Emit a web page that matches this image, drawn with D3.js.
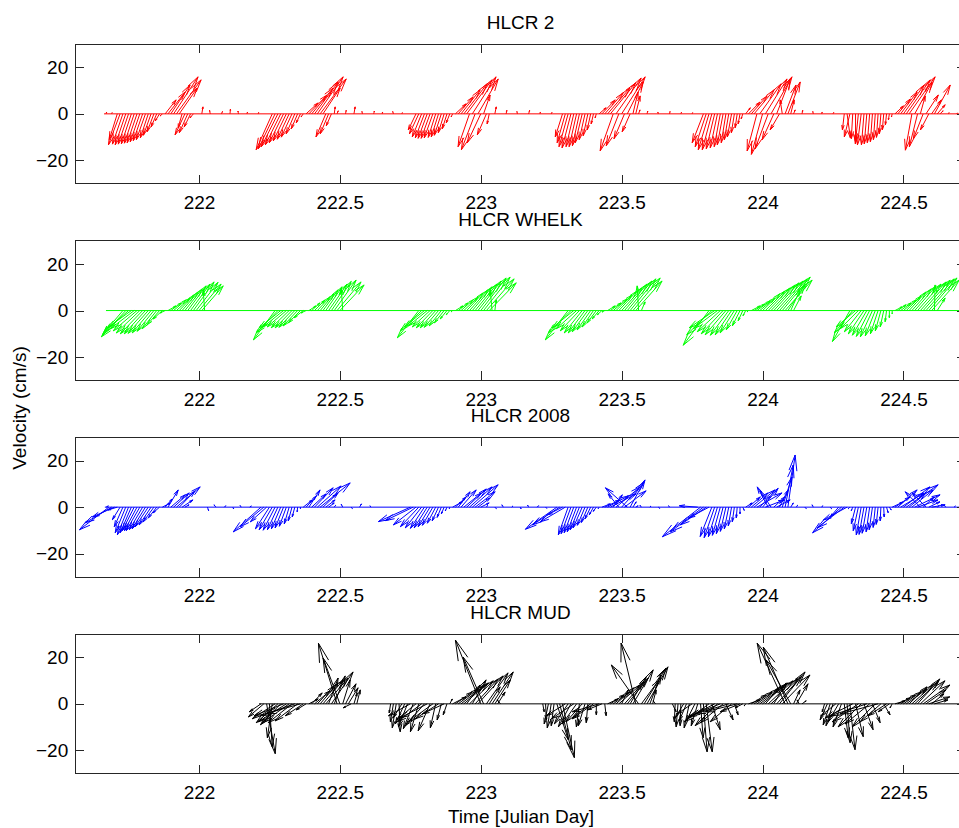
<!DOCTYPE html>
<html>
<head>
<meta charset="utf-8">
<script src="https://cdn.jsdelivr.net/npm/d3@7"></script>
<style>
  body { margin: 0; background: #fff; }
</style>
</head>
<body>
<div id="chart"></div>
<script>
// ---- data -------------------------------------------------------------
// current vectors, 0.01 day sampling; u = east, v = north (cm/s)
var dt = 0.01;
var uScale = 0.00826;   // days of time axis per cm/s of u (feather scaling)

var titles = ["HLCR 2", "HLCR WHELK", "HLCR 2008", "HLCR MUD"];
var colors = ["#ff0000", "#00ff00", "#0000ff", "#000000"];
var xTicks = [222, 222.5, 223, 223.5, 224, 224.5];
var yTicks = [-20, 0, 20];

// HLCR 2
var hlcr2Span = [221.663, 224.722];
var hlcr2Start = [221.71, 222.26, 222.77, 223.29, 223.79, 224.29];
var hlcr2U = [
  [-3.4,-5,-4.5,-4.5,-4.4,-4.3,-4.2,-4.2,-4.1,-4,-3.9,-3.4,-3.3,-2.9,-2.4,-1.8,-0.9,4.7,7.4,8.3,10.5,10.6,7.7,-1.7,-4.2,-3.6,-2.7,-1.4],
  [-6.9,-7.2,-7.1,-6.6,-6.1,-5.6,-5.1,-4.6,-3.7,-2.7,-1.8,-0.9,5.2,7.8,9.2,10.2,11.1,11.2,7.4,-4.2,-3.6,-2.2,0.4,0.5],
  [-3.3,-4,-4,-3.9,-3.9,-3.8,-3.7,-3.2,-3.1,-3,-2.5,-2,-1.5,-0.6,4.6,6.4,8.2,10,10.9,-4.9,10.2,-5.9,8.7,-5.8,2.8,-3.9,-0.9],
  [-3.1,-3.5,-3.9,-3.8,-3.3,-3.2,-3,-3,-2.5,-2,-1.5,-1,-0.5,3,5.7,7.9,9.6,10.9,-5.6,10.8,-5.4,10.1,-4.5,6.8,-3.4,2.2,1.9,0.6],
  [-4.8,-4.7,-4.6,-4.1,-3.6,-3.1,-2.6,-2.5,-2,-1.9,-1.8,-1.3,-0.9,-0.8,-0.7,2,5,6.8,8.6,-4.2,9.2,-4.8,9.3,-5.6,9,-5,5.8,-4,-0.9,4.7,5.3,1.5,0.7],
  [-0.8,1.4,-2.4,-0.6,0,-1.3,-1.6,-1.1,-1.1,-1,-0.9,-0.8,-0.7,-0.7,-0.6,-0.5,-0.4,-0.3,3.6,5.4,7.1,8.9,10.3,11.2,-2.8,7.5,-3.5,2.1,-4.2,5.3,-3.6,4.2,6.8,3.4,1.3]
];
var hlcr2V = [
  [-11,-13.3,-13,-13.3,-13,-12.9,-12.6,-12.4,-12,-11.5,-11.1,-10.3,-9.2,-7.7,-5.6,-3,-0.9,6,9.4,12.4,15.9,14.6,11.1,-6,-9,-8.1,-5.6,-1.7],
  [-15.4,-15,-14.1,-13.3,-12.4,-11.6,-10.9,-10,-8.6,-6.4,-3.9,-1.3,4.7,8.1,11.1,13.7,15.9,15,11.1,-9.9,-8.6,-5.1,3,1.3],
  [-6.9,-8.6,-9.9,-10.3,-10.5,-10.5,-10.3,-10.1,-9.9,-9.2,-8.1,-6.4,-3.9,-1.3,4.3,7.3,10.3,12.9,14.6,-14.1,15.9,-15.4,15,-12.4,8.1,-9,-4.3],
  [-9.9,-12.4,-14.1,-14.6,-14.1,-14.1,-13.7,-12.4,-11.1,-9.4,-6.9,-4.3,-1.7,2.6,6,9,11.1,13.3,-15.9,15.4,-13.7,15.9,-10.7,13.7,-7.7,9.4,7.7,1.7],
  [-12.4,-14.1,-15.4,-15.4,-15,-14.6,-14.1,-13.3,-12.4,-11.1,-9.9,-8.1,-6,-4.3,-2.1,2.6,5.1,7.7,10.3,-15.9,12.9,-17.4,15,-15,15.9,-11.1,15,-6.9,6,12.4,13.7,6,1.7],
  [-6.9,-10.3,-9.9,-10.7,-12,-12.9,-13.3,-13.3,-12.9,-12.4,-12,-11.1,-10.1,-8.6,-6.9,-4.7,-2.6,-1.3,3.4,6.4,9.4,12.4,14.6,15.9,-15.6,13.7,-14.1,7.7,-10.7,8.1,-6.9,6,12.4,3.9,1.3]
];
var hlcr2SlackT = [221.67,221.69,222.01,222.04,222.08,222.11,222.14,222.17,222.21,222.52,222.55,222.58,222.62,222.65,222.69,222.72,223.05,223.09,223.13,223.17,223.21,223.25,223.59,223.63,223.67,223.71,223.75,224.14,224.18,224.21,224.25,224.66,224.69];
var hlcr2SlackU = [0.3,0.2,0.5,-0.3,0.4,0.2,-0.2,0.3,0.2,0.3,0.5,-0.2,0.3,0.2,-0.3,0.2,0.6,0.3,-0.2,0.4,0.2,0.3,0.3,-0.2,0.2,0.3,0.2,0.3,-0.2,0.2,0.3,0.2,0.2];
var hlcr2SlackV = [0.8,0.5,3,1.5,1,2,1.2,0.8,0.6,1.5,3,1,1.2,0.8,1,0.5,3,1.5,1,1.5,0.8,0.6,1.2,0.8,1,0.7,0.5,1.5,1,0.8,0.6,0.5,0.4];

// HLCR WHELK
var whelkSpan = [221.67, 224.722];
var whelkStart = [221.73, 222.27, 222.78, 223.31, 223.81, 224.31];
var whelkU = [
  [-8.8,-10.5,-10.4,-10.3,-10.2,-10.2,-10.1,-9.6,-9.1,-8.6,-8.1,-7.2,-6.2,-5.3,-3.9,-2.1,3.5,4.5,5.4,5.9,6.4,6.9,7.4,7.9,8.4,8.9,9.4,9.5,9.2,-0.6],
  [-9.3,-9.3,-9.2,-8.7,-8.2,-7.7,-7.2,-6.8,-6.2,-5.2,-3.9,-2.1,3.1,3.6,4.6,5.5,6,6.5,7,8,8.5,9.4,10.3,10.4,-0.6],
  [-9.2,-9.1,-8.6,-8.1,-7.6,-7.1,-6.6,-6.1,-5.2,-4.2,-2.9,-1.5,-0.6,3.3,4.3,5.2,6.2,7.1,8,8.5,9.4,10,10.9,11.4,11.9,11.6,-0.8,0.6],
  [-9.8,-9.7,-9.3,-8.7,-8.2,-7.7,-7.2,-6.7,-5.8,-4.8,-3.9,-3,-2,-1.1,3.3,4.6,6,6.9,7.8,8.8,9.7,10.6,11.1,11.7,11.3,-0.6,1.6],
  [-11.1,-10.8,-10.9,-10.4,-9.9,-9.4,-8.9,-7.9,-7,-6.1,-4.7,-3.3,-2,-1.1,-0.6,3.9,4.8,5.7,6.6,7.5,8.5,9.4,10.4,10.8,11.4,11.9,12,11.6,7.4,4,3.3],
  [-7.5,-7.9,-8.3,-7.8,-7.2,-6.7,-6.2,-5.7,-5.2,-4.3,-3.3,-2.4,-1.5,-0.6,0,0,3.1,3.6,4.5,5.5,6.4,7.3,8.3,9.2,10.1,11.1,11.6,12.1,12.1,11.8,0.3,3.4]
];
var whelkV = [
  [-10.4,-11.3,-9.1,-7.4,-7.8,-8.7,-9.6,-10,-10,-9.8,-9.6,-8.9,-7.8,-6.1,-3.6,-1,2,3.3,4.6,5.4,6.7,8,9.3,10.6,11.4,12.3,12.1,11.4,10.6,8.9],
  [-12.6,-9.6,-7.4,-7,-7,-7.4,-7.4,-7.2,-6.6,-5.3,-3.1,-1,2,3.3,4.6,5.9,7.2,8.9,10.2,11.4,12.5,13.1,12.3,11,9.7],
  [-11.7,-8.7,-7,-6.6,-7,-7.4,-7.4,-7.2,-6.6,-5.3,-3.6,-1.8,-0.6,2,3.3,4.6,5.9,7.6,8.9,10.2,11.4,12.7,14,14.4,13.6,11.9,8.9,4.6],
  [-12.6,-9.6,-7.4,-7.8,-8.7,-9.6,-9.6,-9.1,-8.3,-7,-5.3,-3.6,-1.8,-0.6,2,3.3,5,6.7,8.4,9.7,11.4,12.7,13.6,14,12.7,10.6,3.7],
  [-14.9,-10.4,-7.4,-7.8,-9.1,-10,-10.4,-10.6,-10.4,-9.6,-8.3,-6.6,-4.4,-2.2,-0.6,2,2.9,4.2,5.4,7.2,8.4,9.7,11,11.9,12.7,13.6,14.4,13.1,11,8.9,6.3],
  [-13.3,-9.6,-7,-7.8,-9.1,-10,-10.6,-11.1,-11.3,-10.9,-10,-8.7,-7,-4.8,-3.1,-1.4,1.6,2.5,3.3,4.6,6.3,8,9.3,10.6,11.4,12.3,13.1,13.6,14,13.1,11,5.4]
];
var whelkSlackT = [];
var whelkSlackU = [];
var whelkSlackV = [];

// HLCR 2008
var h2008Span = [221.666, 224.722];
var h2008Start = [221.68, 222.22, 222.75, 223.27, 223.77, 224.27];
var h2008U = [
  [-12.6,-11.3,-9.5,-3.9,-3.3,-3.7,-4.5,-4.8,-4.8,-5.1,-5.4,-5.8,-5.7,-5.7,-5.6,-5.1,-4.6,-3.6,-2.7,3.4,3,4.4,6.2,6.7,10.2,6.8,4.7,1.8],
  [-11.9,-10.1,-7,-6,-5.6,-5.1,-4.5,-4,-3.6,-3,-2.1,-1.6,-1.1,-0.2,0,3.9,4.4,4.8,6.2,8,10.2,12.9,6.5,4,2.4],
  [-13.7,-12,-9.7,-7.9,-7,-6,-5.6,-5.1,-4.5,-3.6,-2.7,-1.8,-1.2,-0.7,-0.2,4.2,4.6,5.1,6.5,7.5,8.4,9.7,11.1,8.6,5.3,3.6],
  [-13.5,-11.7,-6.5,-10.8,-4.2,-4.2,-4.1,-4,-3.9,-3.9,-3.3,-2.8,-2.4,-1.8,-1.3,-0.4,3.6,6.6,8.8,11.1,3.9,10.4,-4.6,9.6,9.3,-9.4,6.4,1.4,1],
  [-7.9,-16.4,-14.2,-11.1,-8.9,-5,-4.5,-3.9,-3.4,-2.9,-2.4,-1.9,-1.4,-0.9,-0.4,0,0.6,2.8,5.1,7.2,9,10.8,4.5,6.7,8.1,-4.7,-4.6,4.8,5.8,3.7,4.2,3.5,3.1,1.1],
  [-3.6,-12.4,-11.6,-10.2,-0.7,-0.6,-1.8,-2.2,-2.1,-2.1,-2,-1.5,-1.4,-0.9,-0.8,-0.3,0.2,0.7,0.8,4.7,6.5,8.3,10.1,11.4,13.7,6.9,9.1,10.9,8.8,-6.5,4.7,-5.9,4.8,5.8]
];
var h2008V = [
  [-9.7,-6.7,-4.2,-1.2,-5.4,-8.4,-11,-11.9,-11,-10.1,-10.1,-10.1,-9.7,-9.3,-8.4,-7.6,-6.3,-4.6,-2.4,1.8,3.5,7.4,5.3,6.1,8.7,7,3.1,1],
  [-10.6,-8.4,-6.3,-9.3,-9.7,-9.9,-9.7,-9.3,-8.9,-8.2,-7.2,-5.9,-4.2,-2,-0.7,3.1,4.8,7.4,5.7,8.3,9.1,10.4,6.1,3.1,1.8],
  [-6.2,-5.8,-7.6,-8.4,-8.9,-9.1,-8.9,-8.4,-7.8,-6.9,-5.9,-4.4,-2.9,-1.6,-0.7,2.3,4.4,6.6,7.4,6.1,7.8,8.7,9.6,6.6,4,1.8],
  [-9.5,-7.6,-3.3,-6.3,-11.9,-11.4,-11,-10.6,-9.7,-8.9,-7.8,-6.6,-5,-3.3,-1.8,-0.7,1.4,3.1,4.8,5.7,5.3,8.7,5.7,10.6,7,8.3,11.7,2.3,0.6],
  [0.6,-12.7,-10.6,-7.6,-4.7,-12.6,-13.1,-12.7,-12.1,-11.4,-10.4,-9.3,-8,-6.3,-4.6,-2.9,-1.4,1.8,4.4,6.1,7.4,6.1,4.8,8.1,3.1,8.7,7,4.4,3.1,7.4,13,18.1,22.4,1.8],
  [-4.2,-11,-8.9,-5.5,-0.7,-1.5,-7.1,-10.1,-11.9,-11.7,-11.2,-10.6,-9.7,-8.7,-7.4,-5.9,-4.2,-2.4,-1.2,2.2,4.4,7.4,6.1,8.7,9.6,5.7,7.4,5.3,3.1,6.6,4.4,6.1,2.3,1]
];
var h2008SlackT = [221.67,222.03,222.06,222.09,222.12,222.15,222.18,222.48,222.51,222.54,222.57,222.61,223.02,223.05,223.08,223.11,223.14,223.17,223.2,223.23,223.57,223.6,223.63,223.67,224.12,224.15,224.18,224.21,224.24,224.62,224.65,224.68];
var h2008SlackU = [1,0.5,-0.8,0.6,0.4,-0.5,0.7,0.6,-0.6,0.5,0.8,-0.4,0.5,0.6,-0.6,0.5,0.4,-0.5,0.6,0.5,-0.6,0.5,0.6,-0.4,0.5,0.6,-0.5,0.4,0.6,0.8,-0.6,0.5];
var h2008SlackV = [0.5,-1.5,1,0.6,-0.8,0.7,0.5,0.8,1.2,-0.6,1.4,0.6,0.7,-0.6,1,0.5,-0.8,0.9,0.6,-0.5,0.8,0.5,-0.5,0.6,0.8,-0.6,1,0.6,-0.7,0.7,0.8,0.5];

// HLCR MUD
var mudSpan = [222.213, 224.722];
var mudStart = [222.22, 222.68, 223.22, 223.68, 224.22];
var mudU = [
  [-5,-6.6,3.7,1.2,-2.1,-9.8,-9.3,-8.7,-12.6,-12,-11.5,-10.2,-14.8,-9.6,-15.1,-7.7,-4.2,4,4.5,6.7,7.2,7.7,8.7,9.6,4.1,9.3,4.7,-8,-7.2,3.2,4.5,4.2,-3.4,1.4,1.5],
  [-0.6,-1.3,-1.7,0.5,-3.7,-4,-3.9,-9.4,-4.2,-8.4,-3.6,-10.4,-8.2,-11.6,-5.1,-10.5,-2.3,-10,-1.8,-9.4,-1.6,1.1,5.8,7.2,8.6,9.9,10.5,5.8,10.2,5.9,9.9,10.8,-10.9,-8.8,9.3,4.7,9.1,6.6,3.2,-1.4],
  [0.6,0.3,-1.8,-1.7,-1.2,4.9,5,5.1,-8.1,-5.9,-5.4,-9.6,-6.1,-1.3,-6.9,-2.9,-0.7,-7.9,-9.1,0,-11.5,-6.4,0.6,4.5,5.9,7.3,7.8,9.2,2.8,8.4,9,6.9,8.7,-6.3,-11.7,7.6,9.4,9,4.8,1.5,-1],
  [1.6,-0.4,-0.8,-0.3,-3.6,-3.1,-2.2,-6.4,-3.7,-2.8,1.1,1.6,2.6,-10.6,3.6,-11.4,-9.6,-12.9,-9.8,3.1,-14.4,-9.2,1.6,-13.7,-8.5,-3.3,-0.6,5,6.3,7.7,9.1,10.5,11,6.3,10.7,11.6,5.3,10.9,11,11.9,-12,-10.6,-10.6,2.8,5,-0.9,1.8],
  [-1,-3.1,-3,-3,-6.3,-4.5,-3.6,1.7,1.3,2.2,-11.8,3.3,-11.2,-9.9,3.9,-15.7,-10.5,3.3,-9.9,-16.3,-8.9,2.7,-7.9,-4.8,-0.9,4.3,5.3,6.2,7.5,8.9,7.7,9,10,9.6,10.6,11.5,8.6,9,5.3,5.8]
];
var mudV = [
  [-3.4,-5.6,-21.4,-18.4,-14.6,-6.4,-8.1,-9,-5.1,-7.7,-8.1,-8.1,-5.1,-7.3,-4.3,-5.1,-2.6,2.1,4.7,5.6,7.7,9,10.3,11.1,11.1,13.7,12,26,19.7,10.3,8.6,6.9,-1.7,4.7,6],
  [-3.9,-7.7,-10.3,-12,-6,-8.6,-9.9,-5.1,-10.7,-6.9,-12,-7.7,-9.4,-6,-11.6,-7.7,-10.3,-6.4,-6.9,-4.3,-4.7,2.1,3,5.1,6.4,7.7,9,8.1,9.9,10.3,10.7,12,27.4,20.1,13.3,7.3,13.7,10.3,5.1,1.7],
  [-3.4,-6.9,-8.6,-10.3,-9.4,-15.4,-19.7,-23.1,-5.1,-8.6,-9.9,-6.4,-8.6,-9.9,-7.7,-9.4,-8.1,-6,-6.4,-4.7,-3.4,-2.6,-5.1,2.1,3.9,5.1,6.9,8.1,6,9.4,11.1,11.6,14.6,26.1,16.7,10.3,15.4,15.9,12.4,6,1.3],
  [-3.4,-7.7,-9.9,-9.4,-6,-7.3,-10.3,-4.3,-7.3,-9.4,-14.6,-20.6,-20.6,-7.7,-11.1,-6,-9.4,-5.1,-8.1,-6.9,-4.3,-7.7,-4.7,-3.4,-3.4,-1.7,-0.9,1.7,3.9,5.1,6.4,7.7,9,7.3,9.9,10.7,9,12,13.7,12.4,26.1,24.4,18.9,6,8.6,1.7,1.3],
  [-3.4,-6.9,-9,-9.4,-5.1,-7.7,-9.9,-14.6,-16.7,-19.7,-6,-14.1,-7.7,-9.9,-11.1,-5.1,-8.6,-8.1,-9.9,-4.3,-7.7,-4.7,-5.1,-3.4,-1.7,1.3,2.6,3.9,5.1,6.4,7.3,8.1,9.4,10.7,9.9,8.1,6,3,4.3,1.7]
];
var mudSlackT = [];
var mudSlackU = [];
var mudSlackV = [];

// ---- layout -----------------------------------------------------------
var W = 959, H = 828;
var axLeft = 75, axRight = 966;          // right edge of the box falls just off the figure
var tops = [44, 240.7, 437.3, 634], ph = 139.7;
var tickLen = 9;
var fontFam = "'Liberation Sans', Arial, Helvetica, sans-serif";
var axisColor = "#262626";

var panels = [
  {span: hlcr2Span, start: hlcr2Start, u: hlcr2U, v: hlcr2V, st: hlcr2SlackT, su: hlcr2SlackU, sv: hlcr2SlackV},
  {span: whelkSpan, start: whelkStart, u: whelkU, v: whelkV, st: whelkSlackT, su: whelkSlackU, sv: whelkSlackV},
  {span: h2008Span, start: h2008Start, u: h2008U, v: h2008V, st: h2008SlackT, su: h2008SlackU, sv: h2008SlackV},
  {span: mudSpan, start: mudStart, u: mudU, v: mudV, st: mudSlackT, su: mudSlackU, sv: mudSlackV}
];

var x = d3.scaleLinear().domain([221.56, 224.722]).range([axLeft, axRight]);

var svg = d3.select("#chart").append("svg")
    .attr("width", W)
    .attr("height", H)
    .style("font-family", fontFam);

var defs = svg.append("defs");

// quiver arrow: shaft plus two head strokes (MATLAB-like proportions)
function arrowPath(x0, y0, x1, y1) {
  var dx = x1 - x0, dy = y1 - y0;
  if (Math.abs(dx) < 0.05 && Math.abs(dy) < 0.05) return "";
  var a = 0.3, b = 0.25;
  var h1x = x1 - a * (dx + b * dy), h1y = y1 - a * (dy - b * dx);
  var h2x = x1 - a * (dx - b * dy), h2y = y1 - a * (dy + b * dx);
  return "M" + x0 + "," + y0 + "L" + x1 + "," + y1 +
         "M" + h1x + "," + h1y + "L" + x1 + "," + y1 + "L" + h2x + "," + h2y;
}

panels.forEach(function(p, k) {
  var top = tops[k];
  var y = d3.scaleLinear().domain([-30, 30]).range([top + ph, top]);

  defs.append("clipPath").attr("id", "clip" + k)
    .append("rect")
      .attr("x", axLeft).attr("y", top)
      .attr("width", axRight - axLeft).attr("height", ph);

  // gather vectors
  var vecs = [];
  p.start.forEach(function(t0, b) {
    p.u[b].forEach(function(u, i) {
      vecs.push({t: t0 + i * dt, u: u, v: p.v[b][i]});
    });
  });
  p.st.forEach(function(t, i) {
    vecs.push({t: t, u: p.su[i], v: p.sv[i]});
  });

  var g = svg.append("g").attr("clip-path", "url(#clip" + k + ")");

  g.append("line")
    .attr("x1", x(p.span[0])).attr("x2", x(p.span[1]))
    .attr("y1", y(0)).attr("y2", y(0))
    .attr("stroke", colors[k])
    .attr("stroke-width", 1);

  g.selectAll("path.vec")
    .data(vecs)
    .enter()
    .append("path")
      .attr("class", "vec")
      .attr("d", function(d) {
        return arrowPath(x(d.t), y(0), x(d.t + d.u * uScale), y(d.v));
      })
      .attr("fill", "none")
      .attr("stroke", colors[k])
      .attr("stroke-width", 1)
      .attr("stroke-linejoin", "miter");

  // axes, ticks pointing inward
  var bottom = svg.append("g")
      .attr("transform", "translate(0," + (top + ph) + ")")
      .call(d3.axisBottom(x).tickValues(xTicks).tickSize(-tickLen).tickSizeOuter(0)
            .tickPadding(12).tickFormat(function(d) { return String(d); }));
  var topAx = svg.append("g")
      .attr("transform", "translate(0," + top + ")")
      .call(d3.axisTop(x).tickValues(xTicks).tickSize(-tickLen).tickSizeOuter(0).tickFormat(""));
  var left = svg.append("g")
      .attr("transform", "translate(" + axLeft + ",0)")
      .call(d3.axisLeft(y).tickValues(yTicks).tickSize(-tickLen).tickSizeOuter(0).tickPadding(6.8));
  var right = svg.append("g")
      .attr("transform", "translate(" + axRight + ",0)")
      .call(d3.axisRight(y).tickValues(yTicks).tickSize(-tickLen).tickSizeOuter(0).tickFormat(""));

  [bottom, topAx, left, right].forEach(function(a) {
    a.attr("font-family", null).attr("font-size", null);
    a.select(".domain").remove();
    a.selectAll(".tick line").attr("stroke", axisColor).attr("stroke-width", 1)
      .attr("shape-rendering", "crispEdges");
    a.selectAll(".tick text").attr("fill", "#000").attr("font-size", "19px");
  });

  svg.append("rect")
    .attr("x", axLeft).attr("y", top)
    .attr("width", axRight - axLeft).attr("height", ph)
    .attr("fill", "none")
    .attr("stroke", axisColor)
    .attr("stroke-width", 1)
    .attr("shape-rendering", "crispEdges");

  svg.append("text")
    .attr("x", (axLeft + axRight) / 2)
    .attr("y", top - 15)
    .attr("text-anchor", "middle")
    .attr("font-size", "19px")
    .attr("fill", "#000")
    .text(titles[k]);
});

svg.append("text")
  .attr("transform", "translate(26," + 408 + ") rotate(-90)")
  .attr("text-anchor", "middle")
  .attr("font-size", "19px")
  .attr("fill", "#000")
  .text("Velocity (cm/s)");

svg.append("text")
  .attr("x", 521)
  .attr("y", 823)
  .attr("text-anchor", "middle")
  .attr("font-size", "19px")
  .attr("fill", "#000")
  .text("Time [Julian Day]");
</script>
</body>
</html>
